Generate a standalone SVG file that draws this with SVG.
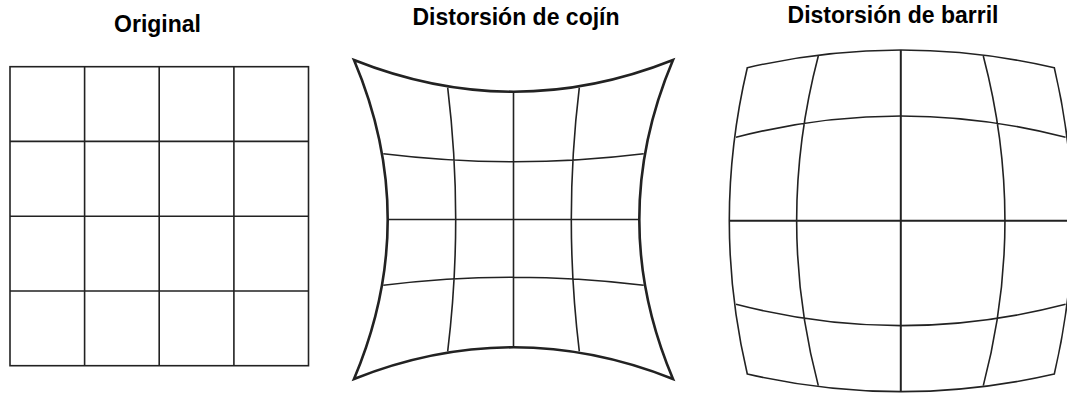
<svg xmlns="http://www.w3.org/2000/svg" width="1067" height="394" viewBox="0 0 1067 394">
<style>
.t{font-family:"Liberation Sans",Arial,sans-serif;font-weight:bold;font-size:23px;fill:#000;text-anchor:middle}
.g{fill:none;stroke:#222;stroke-width:1.6}
.b{fill:none;stroke:#222;stroke-width:2.6;stroke-linejoin:miter}
.c{fill:none;stroke:#222;stroke-width:2}
</style>
<rect width="1067" height="394" fill="#fff"/>
<g id="original">
<text class="t" x="157.5" y="31.5">Original</text>
<rect class="g" x="10" y="66.7" width="298.5" height="299"/>
<path class="g" d="M84.6 66.7V365.7M159.2 66.7V365.7M233.9 66.7V365.7M10 141.4H308.5M10 216.2H308.5M10 291H308.5"/>
</g>
<g id="cojin">
<text class="t" x="516" y="25">Distorsión de cojín</text>
<path class="b" d="M354 60Q513.5 123.4 673 60Q605.6 219.5 673 379Q513.5 315.6 354 379Q421.4 219.5 354 60Z"/>
<path class="g" d="M383.3 153.7Q513.5 169.7 643.7 153.7M387.7 219.5H639.3M383.3 285.3Q513.5 269.3 643.7 285.3M447.7 87.7Q463.7 219.5 447.7 351.3M513.5 91.7V347.3M579.3 87.7Q563.3 219.5 579.3 351.3"/>
</g>
<g id="barril">
<text class="t" x="893" y="22.7">Distorsión de barril</text>
<path class="g" d="M747.3 67.7Q900.8 32.3 1054.3 67.7Q1090.3 220.8 1054.3 374Q900.8 409.3 747.3 374Q711.3 220.8 747.3 67.7Z"/>
<path class="g" d="M736 137.3Q900.8 94.7 1065.6 137.3M736 304.3Q900.8 347 1065.6 304.3M818.3 56Q775 220.8 818.3 385.6M983.3 56Q1026.6 220.8 983.3 385.6"/>
<path class="c" d="M729.3 220.8H1072.3M900.8 50V391.6"/>
</g>
</svg>
